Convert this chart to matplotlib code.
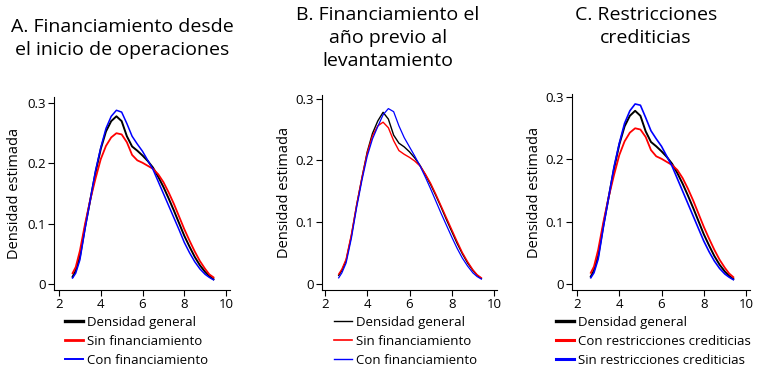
import matplotlib
matplotlib.use("Agg")
import matplotlib.pyplot as plt

# region data
x = [2.65, 2.8, 3.0, 3.25, 3.5, 3.75, 4.0, 4.25, 4.5, 4.75, 5.0, 5.25, 5.5, 5.75,
     6.0, 6.25, 6.5, 6.75, 7.0, 7.25, 7.5, 7.75, 8.0, 8.25, 8.5, 8.75, 9.0, 9.2, 9.4]

# panel A
a_general = [0.012, 0.022, 0.045, 0.095, 0.140, 0.185, 0.224, 0.253, 0.270, 0.278, 0.270, 0.245,
             0.228, 0.221, 0.213, 0.204, 0.193, 0.178, 0.161, 0.142, 0.122, 0.101, 0.080, 0.062,
             0.045, 0.031, 0.020, 0.013, 0.008]
a_sin = [0.018, 0.028, 0.055, 0.100, 0.140, 0.175, 0.207, 0.229, 0.243, 0.250, 0.248, 0.235,
         0.214, 0.205, 0.201, 0.196, 0.191, 0.182, 0.169, 0.152, 0.133, 0.112, 0.091, 0.072,
         0.054, 0.038, 0.025, 0.016, 0.011]
a_con = [0.010, 0.018, 0.040, 0.092, 0.140, 0.188, 0.226, 0.258, 0.278, 0.288, 0.285, 0.266,
         0.245, 0.232, 0.220, 0.205, 0.190, 0.170, 0.150, 0.130, 0.110, 0.090, 0.069, 0.052,
         0.037, 0.025, 0.016, 0.011, 0.007]

# panel B
b_general = [0.014, 0.022, 0.038, 0.078, 0.128, 0.172, 0.214, 0.244, 0.264, 0.278, 0.267, 0.241,
             0.228, 0.222, 0.214, 0.204, 0.192, 0.177, 0.161, 0.143, 0.124, 0.104, 0.085, 0.066,
             0.049, 0.034, 0.022, 0.014, 0.009]
b_sin = [0.016, 0.024, 0.040, 0.080, 0.128, 0.172, 0.212, 0.240, 0.256, 0.262, 0.253, 0.232,
         0.216, 0.210, 0.205, 0.199, 0.191, 0.178, 0.163, 0.145, 0.126, 0.107, 0.088, 0.069,
         0.051, 0.036, 0.023, 0.015, 0.010]
b_con = [0.010, 0.018, 0.034, 0.074, 0.124, 0.168, 0.207, 0.235, 0.255, 0.274, 0.284, 0.279,
         0.256, 0.237, 0.222, 0.207, 0.191, 0.173, 0.154, 0.134, 0.114, 0.095, 0.076, 0.058,
         0.042, 0.029, 0.018, 0.012, 0.008]

# panel C
c_general = [0.012, 0.022, 0.045, 0.095, 0.140, 0.185, 0.224, 0.253, 0.270, 0.278, 0.270, 0.245,
             0.228, 0.221, 0.213, 0.204, 0.193, 0.178, 0.161, 0.142, 0.122, 0.101, 0.080, 0.062,
             0.045, 0.031, 0.020, 0.013, 0.008]
c_con = [0.018, 0.028, 0.055, 0.100, 0.140, 0.175, 0.207, 0.229, 0.243, 0.250, 0.248, 0.236,
         0.215, 0.205, 0.201, 0.196, 0.191, 0.183, 0.170, 0.153, 0.134, 0.113, 0.092, 0.073,
         0.055, 0.039, 0.026, 0.017, 0.011]
c_sin = [0.010, 0.018, 0.040, 0.092, 0.140, 0.188, 0.226, 0.258, 0.278, 0.289, 0.287, 0.267,
         0.246, 0.233, 0.221, 0.205, 0.189, 0.169, 0.149, 0.129, 0.109, 0.089, 0.069, 0.052,
         0.037, 0.025, 0.016, 0.011, 0.007]

titles = ["A. Financiamiento desde\nel inicio de operaciones",
          "B. Financiamiento el\naño previo al\nlevantamiento",
          "C. Restricciones\ncrediticias"]
labels = [["Densidad general", "Sin financiamiento", "Con financiamiento"],
          ["Densidad general", "Sin financiamiento", "Con financiamiento"],
          ["Densidad general", "Con restricciones crediticias", "Sin restricciones crediticias"]]
series = [[a_general, a_sin, a_con], [b_general, b_sin, b_con], [c_general, c_con, c_sin]]
yticks = [0, 0.1, 0.2, 0.3]
ytick_labels = ["0", "0.1", "0.2", "0.3"]
xticks = [2, 4, 6, 8, 10]
# endregion

# region plots
W, H = 758, 367
plt.rcParams['font.family'] = ['Open Sans', 'DejaVu Sans']
fig = plt.figure(figsize=(W / 100, H / 100), dpi=100)

# axes boxes in pixels: left, right, top, bottom
boxes = [(54, 230, 97, 290), (322, 497, 95, 290), (572, 750, 94, 290)]
xlims = [(1.76, 10.19), (1.86, 10.14), (1.76, 10.19)]
ylims = [(-0.0099, 0.31), (-0.0097, 0.306), (-0.0096, 0.305)]
title_pos = [(122, 18), (388, 6), (646, 6)]
ylabel_x = [15, 285, 535]
legend_pos = [(65, 316), (334, 316), (556, 316)]
colors = ["black", "red", "blue"]
widths = [[1.4, 1.3, 1.1], [1.0, 1.0, 0.9], [1.4, 1.3, 1.2]]
leg_widths = [[2.4, 2.0, 1.4], [1.0, 1.2, 1.0], [2.4, 2.2, 2.2]]

for i in range(3):
    l, r, t, b = boxes[i]
    ax = fig.add_axes([l / W, 1 - b / H, (r - l) / W, (b - t) / H])
    lines = []
    for s, c, lw in zip(series[i], colors, widths[i]):
        ln, = ax.plot(x, s, color=c, lw=lw)
        lines.append(ln)
    ax.set_xlim(*xlims[i])
    ax.set_ylim(*ylims[i])
    ax.set_xticks(xticks)
    ax.set_yticks(yticks)
    ax.set_yticklabels(ytick_labels)
    ax.spines['top'].set_visible(False)
    ax.spines['right'].set_visible(False)
    ax.tick_params(labelsize=9.5, length=4, width=0.8, pad=2)
    fig.text(ylabel_x[i] / W, 1 - ((t + b) / 2) / H, "Densidad estimada",
             rotation=90, ha='center', va='center', fontsize=10.5)
    fig.text(title_pos[i][0] / W, 1 - title_pos[i][1] / H, titles[i],
             ha='center', va='top', fontsize=14, linespacing=1.35)
    leg = ax.legend(lines, labels[i], loc='upper left',
                    bbox_to_anchor=(legend_pos[i][0] / W, 1 - legend_pos[i][1] / H),
                    bbox_transform=fig.transFigure, frameon=False, fontsize=9.5,
                    handlelength=1.4, handletextpad=0.3, labelspacing=0.45,
                    borderpad=0, borderaxespad=0)
    for h, lw in zip(leg.get_lines(), leg_widths[i]):
        h.set_linewidth(lw)

fig.savefig("out.png", dpi=100)
# endregion
